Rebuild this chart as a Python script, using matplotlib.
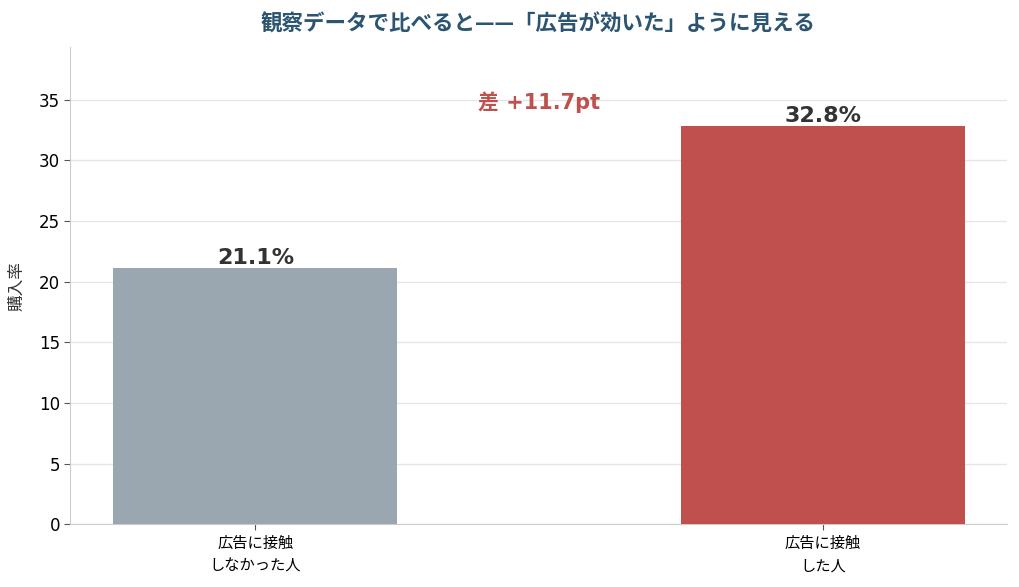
import numpy as np
import matplotlib
matplotlib.use('Agg')
import matplotlib.pyplot as plt

plt.rcParams['font.family'] = ['Noto Sans CJK JP', 'DejaVu Sans']
latin = ['DejaVu Sans', 'Noto Sans CJK JP']

# data
labels = ['広告に接触\nしなかった人', '広告に接触\nした人']
rates = [21.1, 32.8]
colors = ['#9ba7b0', '#c0504d']
diff = rates[1] - rates[0]

fig, ax = plt.subplots(figsize=(10.19, 5.87), dpi=100)
fig.subplots_adjust(left=0.069, right=0.988, top=0.92, bottom=0.107)

x = np.arange(len(labels))
ax.bar(x, rates, width=0.5, color=colors, zorder=3)

for xi, v in zip(x, rates):
    ax.text(xi, v, f'{v:.1f}%', ha='center', va='bottom', fontsize=16,
            fontweight='bold', color='#333333', family=latin, zorder=4)

ax.text(0.5, max(rates) * 1.06, f'差 +{diff:.1f}pt', ha='center', va='center',
        fontsize=15, fontweight='bold', color='#c0504d', family=latin, zorder=4)

ax.set_xticks(x)
ax.set_xticklabels(labels, fontsize=11, linespacing=1.45)
ax.set_xlim(-0.326, 1.324)
ax.set_ylim(0, max(rates) * 1.2)
ax.set_yticks(np.arange(0, 36, 5))
ax.set_yticklabels([str(v) for v in range(0, 36, 5)], family=latin, fontsize=12)
ax.tick_params(axis='y', length=4, color='#555555')
ax.tick_params(axis='x', length=4, color='#555555')
ax.set_ylabel('購入率', fontsize=12, color='#333333', labelpad=10)

ax.grid(axis='y', color='#e6e6e6', linewidth=1, zorder=0)
for s in ['top', 'right']:
    ax.spines[s].set_visible(False)
for s in ['left', 'bottom']:
    ax.spines[s].set_color('#cccccc')

ax.set_title('観察データで比べると——「広告が効いた」ように見える', fontsize=15.5,
             fontweight='bold', color='#2b5571', pad=12)

plt.savefig('out.png', dpi=100)
